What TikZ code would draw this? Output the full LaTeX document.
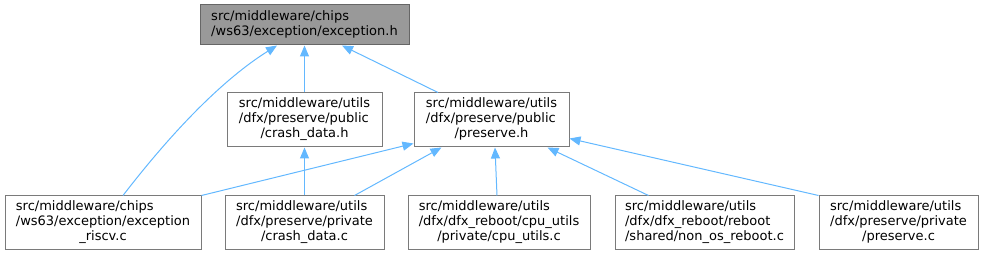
\documentclass[tikz,border=0pt]{standalone}
\usepackage{fontspec}
\setmainfont{DejaVu Sans}
\usetikzlibrary{arrows.meta,calc}
\definecolor{edgeblue}{HTML}{63B8FF}
\definecolor{rootfill}{HTML}{999999}
\definecolor{rootdraw}{HTML}{666666}
\definecolor{boxdraw}{HTML}{7A7A7A}
\newcommand{\nlabthree}[3]{\begin{tabular}{@{}l@{}}#1\\#2\\\multicolumn{1}{@{}c@{}}{#3}\end{tabular}}
\newcommand{\nlabtwo}[2]{\begin{tabular}{@{}l@{}}#1\\#2\end{tabular}}
\begin{document}
\begin{tikzpicture}[x=1pt,y=-1pt,
  box/.style={draw=boxdraw, fill=white, line width=1pt, inner sep=0pt,
    font=\fontsize{13}{15}\selectfont, minimum height=54pt},
  rootbox/.style={box, fill=rootfill, draw=rootdraw, minimum height=40pt},
  edge/.style={draw=edgeblue, line width=1pt, -{Triangle[length=11pt,width=9pt]}}]
\useasboundingbox (0,0) rectangle (983,256);

\node[rootbox, minimum width=209pt] (root) at (304.5,25)
  {\nlabtwo{src/middleware/chips}{/ws63/exception/exception.h}};

\node[box, minimum width=155pt] (cdh) at (304.5,120)
  {\nlabthree{src/middleware/utils}{/dfx/preserve/public}{/crash\_data.h}};
\node[box, minimum width=155pt] (prh) at (491.5,120)
  {\nlabthree{src/middleware/utils}{/dfx/preserve/public}{/preserve.h}};

\node[box, minimum width=196pt] (riscv) at (103,223)
  {\nlabthree{src/middleware/chips}{/ws63/exception/exception}{\_riscv.c}};
\node[box, minimum width=159pt] (cdc) at (304.5,223)
  {\nlabthree{src/middleware/utils}{/dfx/preserve/private}{/crash\_data.c}};
\node[box, minimum width=182pt] (cpu) at (499,223)
  {\nlabthree{src/middleware/utils}{/dfx/dfx\_reboot/cpu\_utils}{/private/cpu\_utils.c}};
\node[box, minimum width=179pt] (nos) at (704.5,223)
  {\nlabthree{src/middleware/utils}{/dfx/dfx\_reboot/reboot}{/shared/non\_os\_reboot.c}};
\node[box, minimum width=159pt] (prc) at (898.5,223)
  {\nlabthree{src/middleware/utils}{/dfx/preserve/private}{/preserve.c}};

% edges to root
\draw[edge] ([xshift=20pt]riscv.north) .. controls (175,128) and (225,78) .. ([xshift=-27.5pt]root.south);
\draw[edge] (cdh.north) -- (root.south);
\draw[edge] ([xshift=-53.5pt]prh.north) -- ([xshift=37.5pt]root.south);
% edge to crash_data.h
\draw[edge] (cdc.north) -- (cdh.south);
% edges to preserve.h
\draw[edge] (riscv.north east) -- ([yshift=4pt]prh.south west);
\draw[edge] ([xshift=50pt]cdc.north) -- ([xshift=-50pt]prh.south);
\draw[edge] ([xshift=-2pt]cpu.north) -- ([xshift=3.5pt]prh.south);
\draw[edge] ([xshift=-56pt]nos.north) -- ([xshift=56pt]prh.south);
\draw[edge] (prc.north west) -- ([yshift=9pt]prh.south east);
\end{tikzpicture}
\end{document}
